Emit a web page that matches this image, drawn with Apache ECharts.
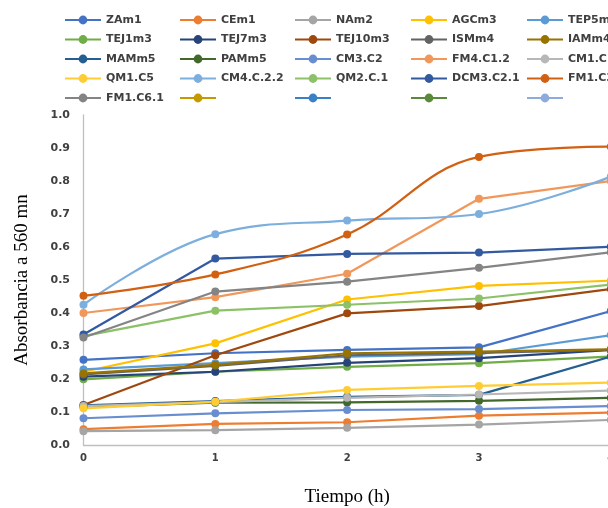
<!DOCTYPE html>
<html>
<head>
<meta charset="utf-8">
<script src="https://cdn.jsdelivr.net/npm/echarts@6/dist/echarts.min.js"></script>
<style>
  html, body { margin: 0; padding: 0; background: #ffffff; }
  #chart { width: 608px; height: 508px; }
</style>
</head>
<body>
<div id="chart"></div>
<script>
// Time points (h)
const hours = ['0', '1', '2', '3', '4'];

// Absorbance at 560 nm for each strain
const ZAm1      = [0.258, 0.278, 0.288, 0.296, 0.406];
const CEm1      = [0.048, 0.064, 0.069, 0.089, 0.098];
const NAm2      = [0.042, 0.045, 0.052, 0.062, 0.076];
const AGCm3     = [0.222, 0.308, 0.441, 0.482, 0.498];
const TEP5m3    = [0.229, 0.248, 0.268, 0.275, 0.333];
const TEJ1m3    = [0.199, 0.222, 0.237, 0.248, 0.268];
const TEJ7m3    = [0.207, 0.222, 0.249, 0.263, 0.288];
const TEJ10m3   = [0.121, 0.272, 0.399, 0.421, 0.473];
const ISMm4     = [0.214, 0.240, 0.272, 0.279, 0.288];
const IAMm4     = [0.217, 0.243, 0.278, 0.283, 0.290];
const MAMm5     = [0.120, 0.133, 0.146, 0.152, 0.268];
const PAMm5     = [0.115, 0.128, 0.129, 0.134, 0.143];
const CM3_C2    = [0.081, 0.096, 0.106, 0.109, 0.118];
const FM4_C1_2  = [0.400, 0.448, 0.519, 0.746, 0.800];
const CM1_C1    = [0.118, 0.130, 0.143, 0.153, 0.165];
const QM1_C5    = [0.111, 0.131, 0.167, 0.179, 0.189];
const CM4_C_2_2 = [0.425, 0.639, 0.680, 0.700, 0.813];
const QM2_C_1   = [0.330, 0.407, 0.425, 0.444, 0.486];
const DCM3_C2_1 = [0.335, 0.565, 0.579, 0.583, 0.601];
const FM1_C3    = [0.452, 0.517, 0.638, 0.873, 0.904];
const FM1_C6_1  = [0.326, 0.465, 0.495, 0.537, 0.584];

const seriesDefs = [
  { name: 'ZAm1',      color: '#4472C4', data: ZAm1 },
  { name: 'CEm1',      color: '#ED7D31', data: CEm1 },
  { name: 'NAm2',      color: '#A5A5A5', data: NAm2 },
  { name: 'AGCm3',     color: '#FFC000', data: AGCm3 },
  { name: 'TEP5m3',    color: '#5B9BD5', data: TEP5m3 },
  { name: 'TEJ1m3',    color: '#70AD47', data: TEJ1m3 },
  { name: 'TEJ7m3',    color: '#264478', data: TEJ7m3 },
  { name: 'TEJ10m3',   color: '#9E480E', data: TEJ10m3 },
  { name: 'ISMm4',     color: '#636363', data: ISMm4 },
  { name: 'IAMm4',     color: '#997300', data: IAMm4 },
  { name: 'MAMm5',     color: '#255E91', data: MAMm5 },
  { name: 'PAMm5',     color: '#43682B', data: PAMm5 },
  { name: 'CM3.C2',    color: '#698ED0', data: CM3_C2 },
  { name: 'FM4.C1.2',  color: '#F1975A', data: FM4_C1_2 },
  { name: 'CM1.C1',    color: '#B7B7B7', data: CM1_C1 },
  { name: 'QM1.C5',    color: '#FFCD33', data: QM1_C5 },
  { name: 'CM4.C.2.2', color: '#7CAFDD', data: CM4_C_2_2, smooth: true },
  { name: 'QM2.C.1',   color: '#8CC168', data: QM2_C_1 },
  { name: 'DCM3.C2.1', color: '#335AA1', data: DCM3_C2_1 },
  { name: 'FM1.C3',    color: '#D26012', data: FM1_C3, smooth: true },
  { name: 'FM1.C6.1',  color: '#848484', data: FM1_C6_1 },
  // unlabelled entries (legend only)
  { name: ' ',         color: '#C49A00', data: [] },
  { name: '  ',        color: '#3A80C6', data: [] },
  { name: '   ',       color: '#5A8A39', data: [] },
  { name: '    ',      color: '#8FAADC', data: [] }
];

// legend laid out in five columns, filled row by row
const colLeft = [59, 174, 289, 405, 521];
const legends = colLeft.map((left, c) => ({
  orient: 'vertical',
  left: left,
  top: 9.5,
  itemWidth: 36,
  itemHeight: 11,
  itemGap: 8.5,
  selectedMode: false,
  textStyle: {
    fontFamily: 'DejaVu Sans',
    fontWeight: 'bold',
    fontSize: 11,
    lineHeight: 11,
    color: '#404040'
  },
  data: seriesDefs.filter((s, i) => i % 5 === c).map(s => s.name)
}));

const chart = echarts.init(document.getElementById('chart'), null, { renderer: 'canvas' });

chart.setOption({
  backgroundColor: '#ffffff',
  animation: false,
  legend: legends,
  grid: {
    left: 83.5, right: -2.8, top: 115, bottom: 63,
    containLabel: false,
    outerBoundsMode: 'none'
  },
  xAxis: {
    type: 'category',
    data: hours,
    boundaryGap: false,
    name: 'Tiempo (h)',
    nameLocation: 'middle',
    nameGap: 43,
    nameTextStyle: { fontFamily: 'Liberation Serif', fontSize: 19, color: '#000000' },
    axisLine: { lineStyle: { color: '#BFBFBF', width: 1.3 } },
    axisTick: { show: false },
    axisLabel: {
      margin: 8,
      fontFamily: 'DejaVu Sans',
      fontWeight: 'bold',
      fontSize: 10,
      color: '#404040'
    },
    splitLine: { show: false }
  },
  yAxis: {
    type: 'value',
    min: 0,
    max: 1,
    interval: 0.1,
    name: 'Absorbancia a 560 mn',
    nameLocation: 'middle',
    nameGap: 52,
    nameTextStyle: { fontFamily: 'Liberation Serif', fontSize: 19, color: '#000000' },
    axisLine: { show: true, lineStyle: { color: '#BFBFBF', width: 1.3 } },
    axisTick: { show: false },
    axisLabel: {
      margin: 13.5,
      fontFamily: 'DejaVu Sans',
      fontWeight: 'bold',
      fontSize: 11,
      color: '#404040',
      formatter: v => v.toFixed(1)
    },
    splitLine: { show: false }
  },
  series: seriesDefs.map(s => ({
    name: s.name,
    type: 'line',
    data: s.data,
    smooth: s.smooth ? 0.4 : false,
    symbol: 'circle',
    symbolSize: 8,
    showSymbol: true,
    color: s.color,
    lineStyle: { width: 2.2, color: s.color },
    itemStyle: { color: s.color }
  }))
});
</script>
</body>
</html>
